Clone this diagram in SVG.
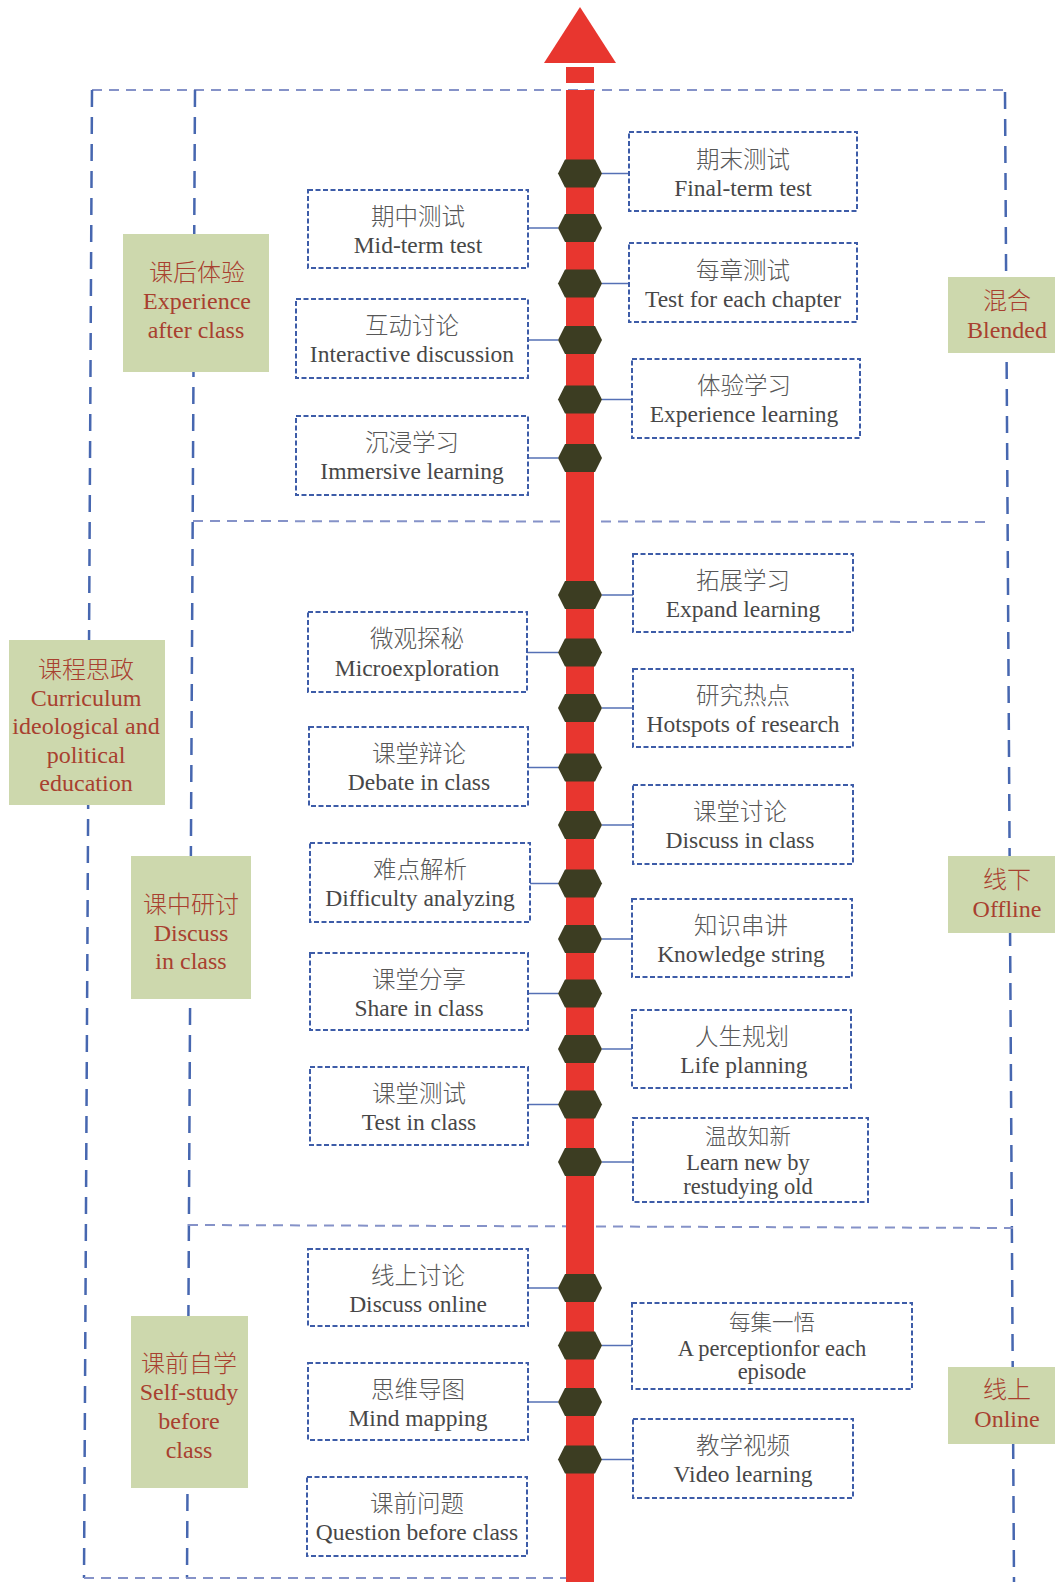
<svg xmlns="http://www.w3.org/2000/svg" width="1055" height="1582" viewBox="0 0 1055 1582">
<style>
.bg{fill:#ffffff}
.hd{stroke:#8592c8;stroke-width:2;stroke-dasharray:10 7;fill:none}
.vd{stroke:#4767b0;stroke-width:2.5;stroke-dasharray:17 10;fill:none}
.box{fill:#ffffff;stroke:#3d5ca8;stroke-width:2;stroke-dasharray:5 2.5}
.con{stroke:#5570b5;stroke-width:1.5}
.gbox{fill:#cdd8ad}
.cn{font-family:"Noto Sans CJK SC","Noto Sans CJK JP",sans-serif;font-size:23.5px;fill:#575757;text-anchor:middle;font-weight:300}
.en{font-family:"Liberation Serif",serif;font-size:23.5px;fill:#474747;text-anchor:middle}
.cn3{font-size:21.5px}
.en3{font-size:22.5px}
.gcn{font-family:"Noto Sans CJK SC","Noto Sans CJK JP",sans-serif;font-size:24px;fill:#a8402f;text-anchor:middle;font-weight:300}
.gen{font-family:"Liberation Serif",serif;font-size:24px;fill:#a8402f;text-anchor:middle}
.bar{fill:#e8362f}
.hex{fill:#3c3d22}
</style>
<defs>
<polygon id="hx" points="-22,0 -15,-14 15,-14 22,0 15,14 -15,14"/>
</defs>
<rect class="bg" x="0" y="0" width="1055" height="1582"/>

<g id="frame">
<line class="hd" x1="92" y1="90" x2="1005" y2="90"/>
<line class="vd" x1="92" y1="90" x2="84" y2="1578"/>
<line class="vd" x1="195" y1="90" x2="187" y2="1578"/>
<line class="vd" x1="1005" y1="92" x2="1014" y2="1582"/>
<line class="hd" x1="193" y1="521" x2="990" y2="522"/>
<line class="hd" x1="188" y1="1225" x2="1013" y2="1228"/>
<line class="hd" x1="84" y1="1578" x2="566" y2="1578"/>
</g>

<g id="connectors">
<line class="con" x1="602" y1="173.5" x2="629" y2="173.5"/>
<line class="con" x1="528" y1="228" x2="558" y2="228"/>
<line class="con" x1="602" y1="283.5" x2="629" y2="283.5"/>
<line class="con" x1="528" y1="340" x2="558" y2="340"/>
<line class="con" x1="602" y1="399.5" x2="632" y2="399.5"/>
<line class="con" x1="528" y1="458" x2="558" y2="458"/>
<line class="con" x1="602" y1="595" x2="633" y2="595"/>
<line class="con" x1="527" y1="652.5" x2="558" y2="652.5"/>
<line class="con" x1="602" y1="708" x2="633" y2="708"/>
<line class="con" x1="528" y1="767.5" x2="558" y2="767.5"/>
<line class="con" x1="602" y1="825" x2="633" y2="825"/>
<line class="con" x1="530" y1="883.5" x2="558" y2="883.5"/>
<line class="con" x1="602" y1="939" x2="632" y2="939"/>
<line class="con" x1="528" y1="993.5" x2="558" y2="993.5"/>
<line class="con" x1="602" y1="1049" x2="632" y2="1049"/>
<line class="con" x1="528" y1="1104.5" x2="558" y2="1104.5"/>
<line class="con" x1="602" y1="1162" x2="633" y2="1162"/>
<line class="con" x1="528" y1="1288" x2="558" y2="1288"/>
<line class="con" x1="602" y1="1345.5" x2="632" y2="1345.5"/>
<line class="con" x1="528" y1="1402" x2="558" y2="1402"/>
<line class="con" x1="602" y1="1459.5" x2="633" y2="1459.5"/>
</g>

<g id="timeline">
<polygon class="bar" points="580,7 616,63 544,63"/>
<rect class="bar" x="566" y="67" width="28" height="16"/>
<rect class="bar" x="566" y="90" width="28" height="1492"/>
<use href="#hx" class="hex" x="580" y="173.5"/>
<use href="#hx" class="hex" x="580" y="228"/>
<use href="#hx" class="hex" x="580" y="283.5"/>
<use href="#hx" class="hex" x="580" y="340"/>
<use href="#hx" class="hex" x="580" y="399.5"/>
<use href="#hx" class="hex" x="580" y="458"/>
<use href="#hx" class="hex" x="580" y="595"/>
<use href="#hx" class="hex" x="580" y="652.5"/>
<use href="#hx" class="hex" x="580" y="708"/>
<use href="#hx" class="hex" x="580" y="767.5"/>
<use href="#hx" class="hex" x="580" y="825"/>
<use href="#hx" class="hex" x="580" y="883.5"/>
<use href="#hx" class="hex" x="580" y="939"/>
<use href="#hx" class="hex" x="580" y="993.5"/>
<use href="#hx" class="hex" x="580" y="1049"/>
<use href="#hx" class="hex" x="580" y="1104.5"/>
<use href="#hx" class="hex" x="580" y="1162"/>
<use href="#hx" class="hex" x="580" y="1288"/>
<use href="#hx" class="hex" x="580" y="1345.5"/>
<use href="#hx" class="hex" x="580" y="1402"/>
<use href="#hx" class="hex" x="580" y="1459.5"/>
</g>

<!-- Green category boxes -->
<g id="g-after">
<rect class="gbox" x="123" y="234" width="146" height="138"/>
<text class="gcn" x="197" y="281">课后体验</text>
<text class="gen" x="197" y="309">Experience</text>
<text class="gen" x="196" y="338">after class</text>
</g>
<g id="g-ideo">
<rect class="gbox" x="9" y="640" width="156" height="165"/>
<text class="gcn" x="86" y="678">课程思政</text>
<text class="gen" x="86" y="706">Curriculum</text>
<text class="gen" x="86" y="734">ideological and</text>
<text class="gen" x="86" y="763">political</text>
<text class="gen" x="86" y="791">education</text>
</g>
<g id="g-inclass">
<rect class="gbox" x="131" y="856" width="120" height="143"/>
<text class="gcn" x="191" y="913">课中研讨</text>
<text class="gen" x="191" y="941">Discuss</text>
<text class="gen" x="191" y="969">in class</text>
</g>
<g id="g-before">
<rect class="gbox" x="131" y="1316" width="117" height="172"/>
<text class="gcn" x="189" y="1372">课前自学</text>
<text class="gen" x="189" y="1400">Self-study</text>
<text class="gen" x="189" y="1429">before</text>
<text class="gen" x="189" y="1458">class</text>
</g>
<g id="g-blended">
<rect class="gbox" x="948" y="277" width="107" height="76"/>
<text class="gcn" x="1007" y="309">混合</text>
<text class="gen" x="1007" y="338">Blended</text>
</g>
<g id="g-offline">
<rect class="gbox" x="948" y="856" width="107" height="77"/>
<text class="gcn" x="1007" y="888">线下</text>
<text class="gen" x="1007" y="917">Offline</text>
</g>
<g id="g-online">
<rect class="gbox" x="948" y="1367" width="107" height="77"/>
<text class="gcn" x="1007" y="1398">线上</text>
<text class="gen" x="1007" y="1427">Online</text>
</g>

<!-- Left activity boxes -->
<g id="n-midterm">
<rect class="box" x="308" y="190" width="220" height="78"/>
<text class="cn" x="418" y="225">期中测试</text>
<text class="en" x="418" y="253">Mid-term test</text>
</g>
<g id="n-interactive">
<rect class="box" x="296" y="299" width="232" height="79"/>
<text class="cn" x="412" y="334">互动讨论</text>
<text class="en" x="412" y="362">Interactive discussion</text>
</g>
<g id="n-immersive">
<rect class="box" x="296" y="416" width="232" height="79"/>
<text class="cn" x="412" y="451">沉浸学习</text>
<text class="en" x="412" y="479">Immersive learning</text>
</g>
<g id="n-micro">
<rect class="box" x="308" y="612" width="219" height="80"/>
<text class="cn" x="417" y="647">微观探秘</text>
<text class="en" x="417" y="676">Microexploration</text>
</g>
<g id="n-debate">
<rect class="box" x="309" y="727" width="219" height="79"/>
<text class="cn" x="419" y="762">课堂辩论</text>
<text class="en" x="419" y="790">Debate in class</text>
</g>
<g id="n-difficulty">
<rect class="box" x="310" y="843" width="220" height="79"/>
<text class="cn" x="420" y="878">难点解析</text>
<text class="en" x="420" y="906">Difficulty analyzing</text>
</g>
<g id="n-share">
<rect class="box" x="310" y="953" width="218" height="77"/>
<text class="cn" x="419" y="988">课堂分享</text>
<text class="en" x="419" y="1016">Share in class</text>
</g>
<g id="n-test">
<rect class="box" x="310" y="1067" width="218" height="78"/>
<text class="cn" x="419" y="1102">课堂测试</text>
<text class="en" x="419" y="1130">Test in class</text>
</g>
<g id="n-discuss-online">
<rect class="box" x="308" y="1249" width="220" height="77"/>
<text class="cn" x="418" y="1284">线上讨论</text>
<text class="en" x="418" y="1312">Discuss online</text>
</g>
<g id="n-mind">
<rect class="box" x="308" y="1363" width="220" height="77"/>
<text class="cn" x="418" y="1398">思维导图</text>
<text class="en" x="418" y="1426">Mind mapping</text>
</g>
<g id="n-question">
<rect class="box" x="307" y="1477" width="220" height="79"/>
<text class="cn" x="417" y="1512">课前问题</text>
<text class="en" x="417" y="1540">Question before class</text>
</g>

<!-- Right activity boxes -->
<g id="n-final">
<rect class="box" x="629" y="132" width="228" height="79"/>
<text class="cn" x="743" y="168">期末测试</text>
<text class="en" x="743" y="196">Final-term test</text>
</g>
<g id="n-chapter">
<rect class="box" x="629" y="243" width="228" height="79"/>
<text class="cn" x="743" y="279">每章测试</text>
<text class="en" x="743" y="307">Test for each chapter</text>
</g>
<g id="n-experience">
<rect class="box" x="632" y="359" width="228" height="79"/>
<text class="cn" x="744" y="394">体验学习</text>
<text class="en" x="744" y="422">Experience learning</text>
</g>
<g id="n-expand">
<rect class="box" x="633" y="554" width="220" height="78"/>
<text class="cn" x="743" y="589">拓展学习</text>
<text class="en" x="743" y="617">Expand learning</text>
</g>
<g id="n-hotspots">
<rect class="box" x="633" y="669" width="220" height="78"/>
<text class="cn" x="743" y="704">研究热点</text>
<text class="en" x="743" y="732">Hotspots of research</text>
</g>
<g id="n-discuss-class">
<rect class="box" x="633" y="785" width="220" height="79"/>
<text class="cn" x="740" y="820">课堂讨论</text>
<text class="en" x="740" y="848">Discuss in class</text>
</g>
<g id="n-knowledge">
<rect class="box" x="632" y="899" width="220" height="78"/>
<text class="cn" x="741" y="934">知识串讲</text>
<text class="en" x="741" y="962">Knowledge string</text>
</g>
<g id="n-life">
<rect class="box" x="632" y="1010" width="219" height="78"/>
<text class="cn" x="742" y="1045">人生规划</text>
<text class="en" x="744" y="1073">Life planning</text>
</g>
<g id="n-learnnew">
<rect class="box" x="633" y="1118" width="235" height="84"/>
<text class="cn cn3" x="748" y="1144">温故知新</text>
<text class="en en3" x="748" y="1170">Learn new by</text>
<text class="en en3" x="748" y="1194">restudying old</text>
</g>
<g id="n-perception">
<rect class="box" x="632" y="1303" width="280" height="86"/>
<text class="cn cn3" x="772" y="1330">每集一悟</text>
<text class="en en3" x="772" y="1356">A perceptionfor each</text>
<text class="en en3" x="772" y="1379">episode</text>
</g>
<g id="n-video">
<rect class="box" x="633" y="1419" width="220" height="79"/>
<text class="cn" x="743" y="1454">教学视频</text>
<text class="en" x="743" y="1482">Video learning</text>
</g>
</svg>
